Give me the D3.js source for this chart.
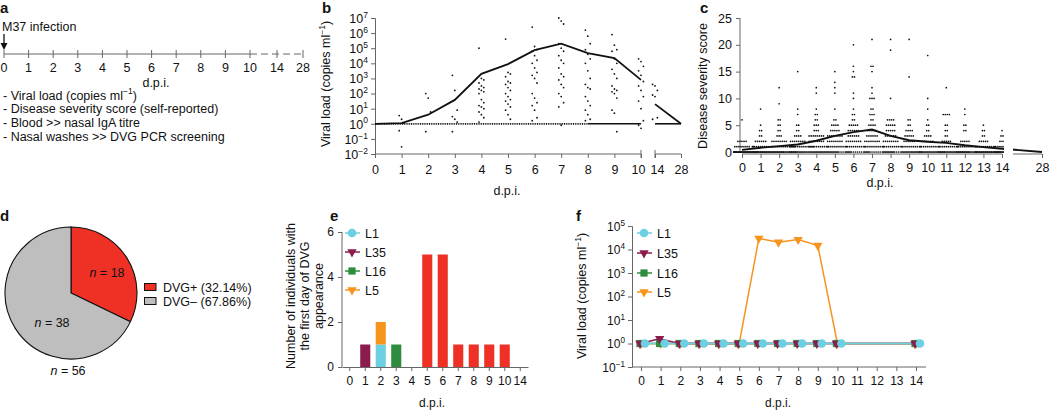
<!DOCTYPE html>
<html><head><meta charset="utf-8">
<script src="https://cdn.jsdelivr.net/npm/d3@7"></script>
<style>
body{margin:0;background:#fff}
svg{font-family:"Liberation Sans",Arial,Helvetica,sans-serif;fill:#111}
</style></head><body>
<svg id="c" width="1050" height="410"></svg>
<script>
// ================= DATA =================
// panel a: timeline
const timelineDays = [0,1,2,3,4,5,6,7,8,9,10,14,28];
const timelineNotes = ["- Viral load (copies ml", "- Disease severity score (self-reported)", "- Blood >> nasal IgA titre", "- Nasal washes >> DVG PCR screening"];

// panel b: viral load (copies/ml)
const vlDays = [0,1,2,3,4,5,6,7,8,9,10,14,28];
const vlMean = [1,1.1,4,38,2000,8900,74000,200000,47000,22000,800,20,1];
const vlLimit = 1;
const vlPoints = [
  [],
  [3.5,2,1.1,0.35,0.03],
  [100,50,6,0.3],
  [1600,160,8,3,2,1.3,0.3],
  [1e5,1000,800,500,320,250,200,160,130,100,40,25,16,13,10,6,4,2.5,1.3],
  [4e5,2500,2000,1300,630,500,400,250,160,100,63,40,32,20,13,8,4,2],
  [2.5e6,1.3e5,8e4,6.3e4,3.2e4,1.6e4,1e4,5000,2500,1600,1000,500,100,50,25,16,8,2.5,1.6],
  [1e7,6.3e6,4e6,2e5,1e5,6.3e4,3.2e4,1.6e4,1e4,5000,2000,1300,800,400,250,100,63,25,13,0.8],
  [1.6e6,6.3e5,2e5,8e4,4e4,2e4,1e4,3200,1000,400,250,200,63,32,16,8,4,2,1.6],
  [8e5,1.6e5,8e4,6.3e4,2e4,1e4,4000,2000,1000,320,200,160,130,100,50,8,5,0.3],
  [2e4,1.3e4,6300,3200,1600,630,320,160,63,32,10,1.6,0.8,0.5],
  [400,320,160,80,63,2.5,2],
  []
];

// panel c: disease severity score, per day [score, count]
const sevDays = [0,1,2,3,4,5,6,7,8,9,10,11,12,13,14];
const sevMean = [0.4,0.8,1.1,1.4,2.1,3.0,3.7,4.2,3.0,2.2,1.9,1.7,1.25,0.9,0.6];
const sevDay28Mean = 0.0;
const sevCounts = [
  [[0,38],[1,8],[2,5],[6,1]],
  [[0,30],[1,10],[2,6],[3,2],[4,2],[5,1],[8,1]],
  [[0,25],[1,10],[2,8],[3,3],[4,2],[5,2],[6,2],[9,1],[12,1]],
  [[0,22],[1,12],[2,8],[3,4],[4,2],[5,2],[7,1],[8,1],[15,1]],
  [[0,18],[1,12],[2,8],[3,8],[4,3],[5,3],[6,2],[7,2],[8,1],[11,1],[12,1]],
  [[0,15],[1,10],[2,8],[3,8],[4,5],[5,4],[6,2],[8,1],[11,1],[12,1],[13,1],[15,1]],
  [[0,12],[1,10],[2,8],[3,6],[4,6],[5,5],[6,2],[7,2],[8,1],[10,1],[11,1],[14,2],[15,1],[16,1],[20,1]],
  [[0,12],[1,10],[2,8],[3,6],[4,5],[5,4],[6,2],[7,3],[8,2],[10,3],[11,1],[12,1],[15,1],[16,2],[21,1]],
  [[0,15],[1,10],[2,8],[3,6],[4,5],[5,5],[6,4],[10,1],[19,1],[21,1]],
  [[0,18],[1,10],[2,6],[3,5],[4,4],[5,2],[6,2],[14,1],[21,1]],
  [[0,20],[1,10],[2,6],[3,4],[4,2],[5,2],[6,1],[8,1],[10,1],[18,1]],
  [[0,22],[1,10],[2,5],[3,2],[4,2],[5,2],[7,4],[12,1]],
  [[0,25],[1,10],[2,5],[4,2],[5,2],[7,1],[8,1]],
  [[0,28],[1,10],[2,5],[3,2],[4,2],[5,1]],
  [[0,30],[1,10],[2,3],[3,2],[4,1]]
];

// panel d: pie
const pieLabels = ["DVG+ (32.14%)", "DVG\u2013 (67.86%)"];
const pieCounts = [18, 38];
const pieTotal = 56;

// panel e: first day of DVG appearance
const eDays = ["0","1","2","3","4","5","6","7","8","9","10","14"];
const eL1    = [0,0,1,0,0,0,0,0,0,0,0,0];
const eL5    = [0,0,1,0,0,0,0,0,0,0,0,0];
const eL35   = [0,1,0,0,0,0,0,0,0,0,0,0];
const eL16   = [0,0,0,1,0,0,0,0,0,0,0,0];
const eOther = [0,0,0,0,0,5,5,1,1,1,1,0];
const eTicks = [0,2,4,6];
const seriesNames = ["L1","L35","L16","L5"];

// panel f: viral load of individuals
const fDays = [0,1,2,3,4,5,6,7,8,9,10,14];
const fTickDays = [0,1,2,3,4,5,6,7,8,9,10,11,12,13,14];
const fL1  = [1,1,1,1,1,1,1,1,1,1,1,1];
const fL35 = [1,1.6,1,1,1,1,1,1,1,1,1,1];
const fL16 = [1,1,1,1,1,1,1,1,1,1,1,1];
const fL5  = [1,1,1,1,1,1,29500,20400,26300,14800,1,1];

// ================= DRAW =================
const svg = d3.select("#c");
const AX = "#666";
const col = {L1:"#6ccfe2", L35:"#8c1c4e", L16:"#2e8c3e", L5:"#f7941d", red:"#ee3124", grey:"#bebebe"};

function letter(t,x,y){ svg.append("text").attr("x",x).attr("y",y).attr("font-weight","bold").attr("font-size",15).text(t); }
function supText(sel, base, sup, after, fs){
  sel.append("tspan").text(base);
  sel.append("tspan").text(sup).attr("font-size", fs*0.68).attr("dy", -fs*0.42);
  if(after) sel.append("tspan").text(after).attr("dy", fs*0.42);
}
function expLabel(sel, v, fs){
  const e = Math.round(Math.log10(v));
  supText(sel, "10", (e<0?"\u2212":"")+Math.abs(e), null, fs);
}
function styleAxis(g){ g.selectAll("path,line").attr("stroke",AX); g.selectAll("text").attr("fill","#111"); }

// ---------- panel a ----------
letter("a",0,13);
{
  const x = d3.scaleLinear().domain([0,10,14,28]).range([4,250,277,303]);
  const y0 = 54;
  const g = svg.append("g");
  g.append("text").attr("x",2).attr("y",31).attr("font-size",12.5).text("M37 infection");
  g.append("line").attr("x1",x(0)).attr("x2",x(0)).attr("y1",34).attr("y2",45).attr("stroke","#111").attr("stroke-width",1.3);
  g.append("path").attr("d",`M${x(0)-3.5},43 L${x(0)+3.5},43 L${x(0)},50 Z`).attr("fill","#111");
  g.append("line").attr("x1",x(0)).attr("x2",x(10)).attr("y1",y0).attr("y2",y0).attr("stroke",AX);
  g.append("line").attr("x1",x(10)).attr("x2",x(28)).attr("y1",y0).attr("y2",y0).attr("stroke",AX).attr("stroke-dasharray","7,4");
  timelineDays.forEach(d=>{
    g.append("line").attr("x1",x(d)).attr("x2",x(d)).attr("y1",y0-4).attr("y2",y0+4).attr("stroke",AX);
    g.append("text").attr("x",x(d)).attr("y",y0+18).attr("text-anchor","middle").attr("font-size",12.5).text(d);
  });
  g.append("text").attr("x",156).attr("y",87).attr("text-anchor","middle").attr("font-size",12.5).text("d.p.i.");
  timelineNotes.forEach((t,i)=>{
    const tx = g.append("text").attr("x",3).attr("y",99.5+i*13.7).attr("font-size",12.5);
    if(i===0) supText(tx, t, "\u22121", ")", 12.5); else tx.text(t);
  });
}

// ---------- panel b ----------
letter("b",322,13);
{
  const x = d3.scaleLinear().domain([0,10,14,28]).range([375,641,655,681]);
  const y = d3.scaleLog().domain([1e-2,1e7]).range([154,18]);
  const g = svg.append("g");
  const ya = g.append("g").attr("transform","translate(375,0)")
    .call(d3.axisLeft(y).tickValues(d3.range(-2,8).map(e=>Math.pow(10,e))).tickFormat("").tickSize(4));
  ya.selectAll(".tick").append("text").attr("x",-7).attr("dy","0.35em").attr("text-anchor","end").attr("font-size",12.5)
    .each(function(d){ expLabel(d3.select(this), d, 12.5); });
  styleAxis(ya);
  const xa1 = g.append("g").attr("transform","translate(0,154)")
    .call(d3.axisBottom(x).tickValues(vlDays.filter(d=>d<=10)).tickSize(4).tickPadding(7).tickSizeOuter(0));
  xa1.select(".domain").attr("d",`M${x(0)},0H${x(10)}`);
  const xa2 = g.append("g").attr("transform","translate(0,154)")
    .call(d3.axisBottom(x).tickValues(vlDays.filter(d=>d>10)).tickSize(4).tickPadding(7).tickSizeOuter(0));
  xa2.select(".domain").attr("d",`M${x(14)},0H${x(28)}`);
  [xa1,xa2].forEach(a=>{a.selectAll("text").attr("font-size",12.5); styleAxis(a);});
  xa1.selectAll(".tick text").filter(d=>d===10).attr("dx",-3);
  xa2.selectAll(".tick text").filter(d=>d===14).attr("dx",2);
  [10,14].forEach(d=>g.append("line").attr("x1",x(d)).attr("x2",x(d)).attr("y1",150).attr("y2",158).attr("stroke",AX));
  g.append("text").attr("transform","translate(330,84) rotate(-90)").attr("text-anchor","middle").attr("font-size",12.5)
    .call(s=>supText(s,"Viral load (copies ml","\u22121",")",12.5));
  g.append("text").attr("x",507).attr("y",195).attr("text-anchor","middle").attr("font-size",12.5).text("d.p.i.");
  // limit line
  g.append("line").attr("x1",x(0)).attr("x2",x(8)).attr("y1",y(vlLimit)).attr("y2",y(vlLimit)).attr("stroke","#111").attr("stroke-width",1.8).attr("stroke-dasharray","1,0.8");
  g.append("line").attr("x1",x(8)).attr("x2",x(10)).attr("y1",y(vlLimit)).attr("y2",y(vlLimit)).attr("stroke","#111").attr("stroke-width",1.6);
  g.append("line").attr("x1",x(14)).attr("x2",x(28)).attr("y1",y(vlLimit)).attr("y2",y(vlLimit)).attr("stroke","#111").attr("stroke-width",1.6);
  // points
  vlPoints.forEach((arr,i)=>{
    arr.slice().sort((a,b)=>b-a).forEach((v,k)=>{
      g.append("circle").attr("cx",x(vlDays[i])+((k%3)-1)*2.4).attr("cy",y(v)).attr("r",0.9).attr("fill","#111");
    });
  });
  // mean line (broken at axis break)
  const line = d3.line().x(d=>x(d[0])).y(d=>y(d[1]));
  const pts = vlDays.map((d,i)=>[d,vlMean[i]]);
  g.append("path").attr("d",line(pts.filter(p=>p[0]<=10))).attr("fill","none").attr("stroke","#111").attr("stroke-width",1.8);
  g.append("path").attr("d",line(pts.filter(p=>p[0]>=14))).attr("fill","none").attr("stroke","#111").attr("stroke-width",1.8);
}

// ---------- panel c ----------
letter("c",700,13);
{
  const x = d3.scaleLinear().domain([0,14,28]).range([742,1002,1042]);
  const y = d3.scaleLinear().domain([0,25]).range([152,18]);
  const g = svg.append("g");
  const ya = g.append("g").attr("transform","translate(740,0)")
    .call(d3.axisLeft(y).tickValues([0,5,10,15,20,25]).tickSize(4).tickPadding(4));
  ya.selectAll("text").attr("font-size",12.5);
  ya.select(".domain").attr("d","M0,152V18");
  styleAxis(ya);
  const xa = g.append("g").attr("transform","translate(0,154)")
    .call(d3.axisBottom(x).tickValues(sevDays.concat([28])).tickSize(4).tickPadding(5));
  xa.select(".domain").attr("d",`M${x(0)},0H${x(14)}M${x(14)+11},0H${x(28)}`);
  xa.selectAll("text").attr("font-size",12.5);
  styleAxis(xa);
  g.append("text").attr("transform","translate(707,86) rotate(-90)").attr("text-anchor","middle").attr("font-size",12.5).text("Disease severity score");
  g.append("text").attr("x",880).attr("y",187).attr("text-anchor","middle").attr("font-size",12.5).text("d.p.i.");
  sevCounts.forEach((rows,i)=>{
    rows.forEach(([s,n])=>{
      for(let k=0;k<n;k++){
        const off = n>=9 ? ((k%9)-4)*2.05 + (Math.floor(k/9)%2)*1.0 : (k-(n-1)/2)*2.05;
        g.append("circle").attr("cx",x(sevDays[i])+off).attr("cy",y(s)).attr("r",0.85).attr("fill","#111");
      }
    });
  });
  const line = d3.line().x(d=>x(d[0])).y(d=>y(d[1]));
  g.append("path").attr("d",line(sevDays.map((d,i)=>[d,sevMean[i]]))).attr("fill","none").attr("stroke","#111").attr("stroke-width",1.9);
  g.append("path").attr("d",line([[14,sevMean[14]],[28,sevDay28Mean]])).attr("fill","none").attr("stroke","#111").attr("stroke-width",1.9);
  g.append("rect").attr("x",x(14)+2).attr("y",140).attr("width",9).attr("height",20).attr("fill","#fff");
}

// ---------- panel d ----------
letter("d",0,221);
{
  const cx=71, cy=293, r=66;
  const g = svg.append("g").attr("transform",`translate(${cx},${cy})`);
  const arcs = d3.pie().sort(null)(pieCounts);
  const arc = d3.arc().innerRadius(0).outerRadius(r);
  const fills = [col.red, col.grey];
  g.selectAll("path").data(arcs).join("path").attr("d",arc).attr("fill",(d,i)=>fills[i]).attr("stroke","#111").attr("stroke-width",1.1);
  const labPos = [[36,-20],[-19,30]];
  arcs.forEach((a,i)=>{
    const t = g.append("text").attr("x",labPos[i][0]).attr("y",labPos[i][1]+4).attr("text-anchor","middle").attr("font-size",12.5);
    t.append("tspan").attr("font-style","italic").text("n");
    t.append("tspan").text(" = "+pieCounts[i]);
  });
  const t = g.append("text").attr("x",-3).attr("y",r+16).attr("text-anchor","middle").attr("font-size",12.5);
  t.append("tspan").attr("font-style","italic").text("n");
  t.append("tspan").text(" = "+pieTotal);
  pieLabels.forEach((l,i)=>{
    svg.append("rect").attr("x",144.5).attr("y",283.5+i*14).attr("width",11.5).attr("height",7).attr("fill",fills[i]).attr("stroke","#111").attr("stroke-width",1);
    svg.append("text").attr("x",163).attr("y",291.5+i*14).attr("font-size",12.5).text(l);
  });
}

// legend helper
function drawMarker(g,type,x,y,color){
  if(type==="circle") g.append("circle").attr("cx",x).attr("cy",y).attr("r",4.3).attr("fill",color);
  else if(type==="square") g.append("rect").attr("x",x-3.6).attr("y",y-3.6).attr("width",7.2).attr("height",7.2).attr("fill",color);
  else g.append("path").attr("d",d3.symbol().type(d3.symbolTriangle).size(38)()).attr("transform",`translate(${x},${y}) rotate(180)`).attr("fill",color);
}
const markerType = {L1:"circle",L35:"tri",L16:"square",L5:"tri"};
function legend(g,x0,ys){
  seriesNames.forEach((s,i)=>{
    g.append("line").attr("x1",x0-7).attr("x2",x0+8).attr("y1",ys[i]).attr("y2",ys[i]).attr("stroke",col[s]).attr("stroke-width",1.5);
    drawMarker(g,markerType[s],x0,ys[i],col[s]);
    g.append("text").attr("x",x0+13).attr("y",ys[i]+4.5).attr("font-size",12.5).text(s);
  });
}

// ---------- panel e ----------
letter("e",330,221);
{
  const x = d3.scaleBand().domain(eDays).range([342,528]).paddingInner(0.35).paddingOuter(0.175);
  const y = d3.scaleLinear().domain([0,6]).range([367,232]);
  const g = svg.append("g");
  const rows = eDays.map((d,i)=>({day:d, L1:eL1[i], L5:eL5[i], L35:eL35[i], L16:eL16[i], other:eOther[i]}));
  const keys = ["L1","L5","L35","L16","other"];
  const stack = d3.stack().keys(keys)(rows);
  const fillOf = {L1:col.L1,L5:col.L5,L35:col.L35,L16:col.L16,other:col.red};
  stack.forEach(layer=>{
    g.selectAll(null).data(layer.filter(d=>d[1]>d[0])).join("rect")
      .attr("x",d=>x(d.data.day)).attr("width",x.bandwidth())
      .attr("y",d=>y(d[1])).attr("height",d=>y(d[0])-y(d[1])).attr("fill",fillOf[layer.key]);
  });
  const ya = g.append("g").attr("transform","translate(342,0)").call(d3.axisLeft(y).tickValues(eTicks).tickFormat(d3.format("d")).tickSize(4).tickPadding(4));
  ya.selectAll("text").attr("font-size",12);
  ya.select(".domain").attr("d","M0,367V232");
  styleAxis(ya);
  const xa = g.append("g").attr("transform","translate(0,367)").call(d3.axisBottom(x).tickSize(4).tickPadding(5).tickSizeOuter(0));
  xa.selectAll("text").attr("font-size",12);
  styleAxis(xa);
  const lab = g.append("text").attr("transform","translate(295,296) rotate(-90)").attr("text-anchor","middle").attr("font-size",12.5);
  ["Number of individuals with","the first day of DVG","appearance"].forEach((t,i)=>lab.append("tspan").attr("x",0).attr("dy",i?14:0).text(t));
  g.append("text").attr("x",432).attr("y",407).attr("text-anchor","middle").attr("font-size",12).text("d.p.i.");
  legend(g,352,[233,252,271,290]);
}

// ---------- panel f ----------
letter("f",576,221);
{
  const x = d3.scaleLinear().domain([0,14]).range([641,916]);
  const y = d3.scaleLog().domain([0.1,1e5]).range([367,226]);
  const g = svg.append("g");
  const ya = g.append("g").attr("transform","translate(632,0)")
    .call(d3.axisLeft(y).tickValues(d3.range(-1,6).map(e=>Math.pow(10,e))).tickFormat("").tickSize(4));
  ya.selectAll(".tick").append("text").attr("x",-7).attr("dy","0.35em").attr("text-anchor","end").attr("font-size",12)
    .each(function(d){ expLabel(d3.select(this), d, 12); });
  styleAxis(ya);
  const xa = g.append("g").attr("transform","translate(0,367)").call(d3.axisBottom(x).tickValues(fTickDays).tickSize(4).tickPadding(5).tickSizeOuter(0));
  xa.select(".domain").attr("d","M632,0H926");
  xa.selectAll("text").attr("font-size",12);
  styleAxis(xa);
  g.append("text").attr("transform","translate(586,296) rotate(-90)").attr("text-anchor","middle").attr("font-size",12.5)
    .call(s=>supText(s,"Viral load (copies ml","\u22121",")",12.5));
  g.append("text").attr("x",778).attr("y",407).attr("text-anchor","middle").attr("font-size",12).text("d.p.i.");
  const series = [["L5",fL5,0],["L16",fL16,-1],["L35",fL35,-1],["L1",fL1,4]];
  series.forEach(([s,vals,off])=>{
    const line = d3.line().x(d=>x(d[0])+off).y(d=>y(d[1]));
    g.append("path").attr("d",line(fDays.map((d,i)=>[d,vals[i]]))).attr("fill","none").attr("stroke",col[s]).attr("stroke-width",1.5);
  });
  series.forEach(([s,vals,off])=>{
    fDays.forEach((d,i)=>drawMarker(g,markerType[s],x(d)+off,y(vals[i]),col[s]));
  });
  legend(g,644,[233,253,273,292]);
}
</script>
</body></html>
